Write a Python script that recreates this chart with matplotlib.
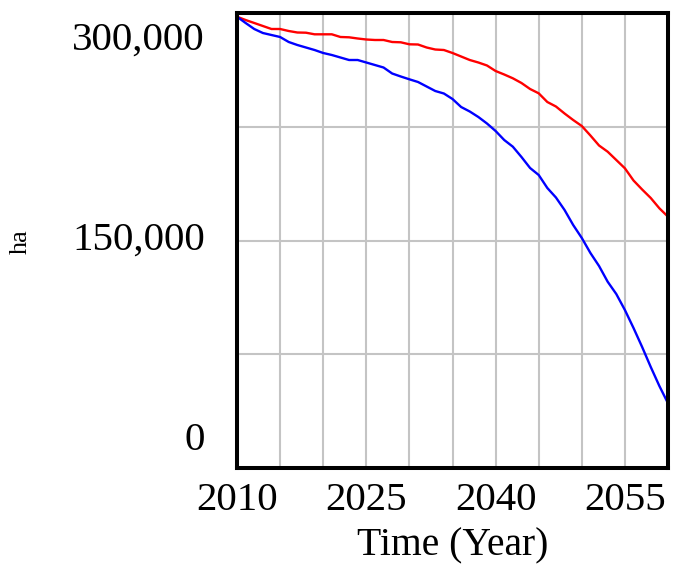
import matplotlib
matplotlib.use("Agg")
import matplotlib.pyplot as plt
import matplotlib.transforms as mtransforms

years = list(range(2010, 2061))
red_series = [297560, 295380, 293410, 291430, 289450, 289450, 288130, 287140, 287010, 285950,
              285950, 285950, 284180, 283980, 283190, 282530, 282200, 282200, 280880, 280680,
              279360, 279230, 277250, 275930, 275600, 273630, 271320, 269010, 267360, 265390,
              261760, 259450, 256950, 253850, 249890, 247050, 241320, 238350, 233740, 229450,
              225490, 219230, 212640, 208550, 203080, 197600, 189560, 183630, 178020, 171230,
              165690]
blue_series = [297560, 293410, 289450, 286810, 285490, 284180, 280880, 278900, 277250, 275600,
               273630, 272310, 270660, 269010, 269010, 267360, 265710, 264060, 260110, 258130,
               256280, 254510, 251540, 248570, 246920, 243300, 238020, 235060, 231430, 227140,
               222200, 216260, 211850, 205060, 197800, 193190, 184620, 178350, 170110, 160220,
               151650, 141760, 133190, 122830, 114720, 104170, 92310, 79780, 66590, 54060,
               42660]
x_ticks = [2010, 2025, 2040, 2055]
x_tick_labels = ["2010", "2025", "2040", "2055"]
y_ticks = [0, 150000, 300000]
y_tick_labels = ["0", "150,000", "300,000"]
x_label = "Time (Year)"
y_label = "ha"

plt.rcParams['font.family'] = ['Liberation Serif', 'DejaVu Serif']

fig = plt.figure(figsize=(6.93, 5.70), dpi=100)
ax = fig.add_axes([237/693, 1 - 468/570, (668-237)/693, (468-13)/570])

ax.set_xlim(2010, 2060)
ax.set_ylim(0, 300000)

# grid
for xv in range(2015, 2060, 5):
    ax.axvline(xv, color='#c4c4c4', lw=1.5, zorder=1)
for yv in range(75000, 300000, 75000):
    ax.axhline(yv, color='#c4c4c4', lw=1.5, zorder=1)

ax.plot(years, red_series, color='#ff0000', lw=1.7, zorder=3, clip_on=False)
ax.plot(years, blue_series, color='#0000ff', lw=1.7, zorder=3, clip_on=False)

for s in ax.spines.values():
    s.set_linewidth(2.9)
    s.set_color('black')
    s.set_zorder(4)

ax.set_xticks([])
ax.set_yticks([])

fs = 29.5
# x tick labels
for v, lab in zip(x_ticks, x_tick_labels):
    tr = ax.get_xaxis_transform() + mtransforms.ScaledTranslation(0, -33/100, fig.dpi_scale_trans)
    ax.text(v, 0, lab, transform=tr, ha='center', va='center', fontsize=fs)

# y tick labels (Vensim style: end labels pulled inward)
offsets = {0: 28, 150000: 0, 300000: -27}
for v, lab in zip(y_ticks, y_tick_labels):
    tr = ax.get_yaxis_transform() + mtransforms.ScaledTranslation(-32/100, offsets[v]/100, fig.dpi_scale_trans)
    ax.text(0, v, lab, transform=tr, ha='right', va='center', fontsize=fs)

fig.text(453/693, 1 - 546/570, x_label, ha='center', va='center', fontsize=28.5)
fig.text(21/693, 1 - 242/570, y_label, ha='center', va='center', fontsize=19, rotation=90)

fig.savefig("out.png", dpi=100)
